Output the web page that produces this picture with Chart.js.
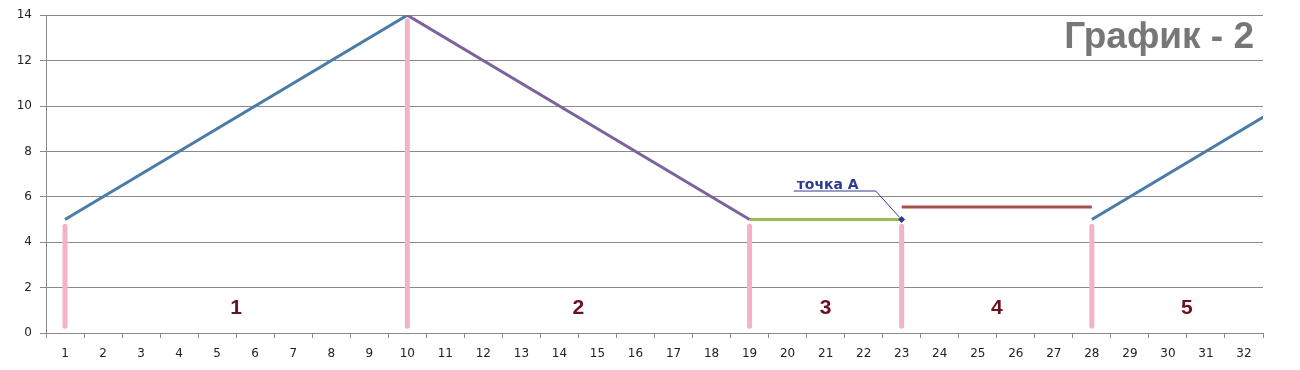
<!DOCTYPE html>
<html>
<head>
<meta charset="utf-8">
<script src="https://cdn.jsdelivr.net/npm/chart.js@4"></script>
<style>
    html, body { margin: 0; padding: 0; background: #fff; }
    #wrap { width: 1300px; height: 370px; }
</style>
</head>
<body>
<div id="wrap"><canvas id="grafico"></canvas></div>
<script>
// ---------------- DADOS ----------------
const categorias = ["1", "2", "3", "4", "5", "6", "7", "8", "9", "10", "11", "12", "13", "14", "15", "16",
    "17", "18", "19", "20", "21", "22", "23", "24", "25", "26", "27", "28", "29", "30", "31", "32"];
const yTicks = [0, 2, 4, 6, 8, 10, 12, 14];

const subida1X = [1, 10];
const subida1Y = [5, 14];
const descidaX = [10, 19];
const descidaY = [14, 5];
const verdeX = [19, 23];
const verdeY = [5, 5];
const vermelhoX = [23, 28];
const vermelhoY = [5.55, 5.55];
const subida2X = [28, 33];
const subida2Y = [5, 10];

const rosaX = [1, 10, 19, 23, 28];
const rosaTopo = [4.7, 13.75, 4.7, 4.7, 4.7];
const rosaBase = 0.3;

const trechoX = [5.5, 14.5, 21, 25.5, 30.5];
const trechoNomes = ["1", "2", "3", "4", "5"];
const trechoY = 1.1;

const pontoA = { x: 23, y: 5 };
const pontoANome = "точка А";
const titulo = "График - 2";

function pares(xs, ys) {
    return xs.map((x, i) => ({ x: x, y: ys[i] }));
}

function linha(xs, ys, cor) {
    return {
        data: pares(xs, ys),
        borderColor: cor,
        borderWidth: 3,
        pointRadius: 0,
        xAxisID: "xl",
        order: 1
    };
}

const datasets = [];

// barras rosas
rosaX.forEach((x, i) => {
    datasets.push({
        data: [{ x: x, y: rosaBase }, { x: x, y: rosaTopo[i] }],
        borderColor: "#f2b2c9",
        borderWidth: 5,
        borderCapStyle: "round",
        pointRadius: 0,
        xAxisID: "xl",
        order: 2
    });
});

datasets.push(linha(subida1X, subida1Y, "#4b7ca8"));
datasets.push(linha(descidaX, descidaY, "#7e62a0"));
datasets.push(linha(verdeX, verdeY, "#9bbb59"));
datasets.push(linha(vermelhoX, vermelhoY, "#a8504e"));
datasets.push(linha(subida2X, subida2Y, "#4b7ca8"));

datasets.push({
    data: [pontoA],
    showLine: false,
    pointStyle: "rectRot",
    pointRadius: 3,
    pointBackgroundColor: "#2e3a8c",
    pointBorderColor: "#2e3a8c",
    xAxisID: "xl",
    order: 0
});

// ---------------- TEXTOS ----------------
const textos = {
    id: "textos",
    afterDatasetsDraw(chart) {
        const ctx = chart.ctx;
        const xs = chart.scales.xl;
        const ys = chart.scales.y;
        const area = chart.chartArea;
        ctx.save();

        ctx.fillStyle = "#6b1020";
        ctx.font = "bold 21px 'Liberation Sans', Arial";
        ctx.textAlign = "center";
        ctx.textBaseline = "middle";
        trechoNomes.forEach((t, i) => {
            ctx.fillText(t, xs.getPixelForValue(trechoX[i]), ys.getPixelForValue(trechoY));
        });

        ctx.fillStyle = "#777777";
        ctx.font = "bold 37px 'Liberation Sans', Arial";
        ctx.textAlign = "right";
        ctx.fillText(titulo, area.right - 9, area.top + 23);

        // rótulo do ponto A
        const px = xs.getPixelForValue(pontoA.x);
        const py = ys.getPixelForValue(pontoA.y);
        ctx.strokeStyle = "#2e3a8c";
        ctx.lineWidth = 1;
        ctx.beginPath();
        ctx.moveTo(px - 108, py - 28.5);
        ctx.lineTo(px - 26, py - 28.5);
        ctx.lineTo(px - 2, py - 2);
        ctx.stroke();
        ctx.fillStyle = "#2e3a8c";
        ctx.font = "bold 14px 'DejaVu Sans', Verdana";
        ctx.textAlign = "left";
        ctx.textBaseline = "alphabetic";
        ctx.fillText(pontoANome, px - 105, py - 31);

        ctx.restore();
    }
};

// ---------------- GRÁFICO ----------------
new Chart(document.getElementById("grafico"), {
    type: "line",
    data: { labels: categorias, datasets: datasets },
    plugins: [textos],
    options: {
        responsive: true,
        maintainAspectRatio: false,
        animation: false,
        layout: { padding: { top: 15, right: 37, left: 0, bottom: 0 } },
        plugins: {
            legend: { display: false },
            tooltip: { enabled: false }
        },
        scales: {
            x: {
                type: "category",
                offset: true,
                grid: {
                    offset: true,
                    drawOnChartArea: false,
                    drawTicks: true,
                    tickLength: 5,
                    color: "#8a8a8a"
                },
                border: { color: "#8a8a8a" },
                ticks: {
                    color: "#222",
                    font: { family: "'DejaVu Sans', Verdana", size: 12 },
                    padding: 9,
                    maxRotation: 0,
                    autoSkip: false
                },
                afterFit(s) { s.height = 37; }
            },
            xl: {
                type: "linear",
                display: false,
                min: 0.5,
                max: 32.5
            },
            y: {
                min: 0,
                max: 14,
                afterBuildTicks(s) { s.ticks = yTicks.map(v => ({ value: v })); },
                grid: {
                    color: "#8a8a8a",
                    tickLength: 6
                },
                border: { color: "#8a8a8a" },
                ticks: {
                    color: "#222",
                    font: { family: "'DejaVu Sans', Verdana", size: 12 },
                    padding: 8
                },
                afterFit(s) { s.width = 46; }
            }
        }
    }
});
</script>
</body>
</html>
